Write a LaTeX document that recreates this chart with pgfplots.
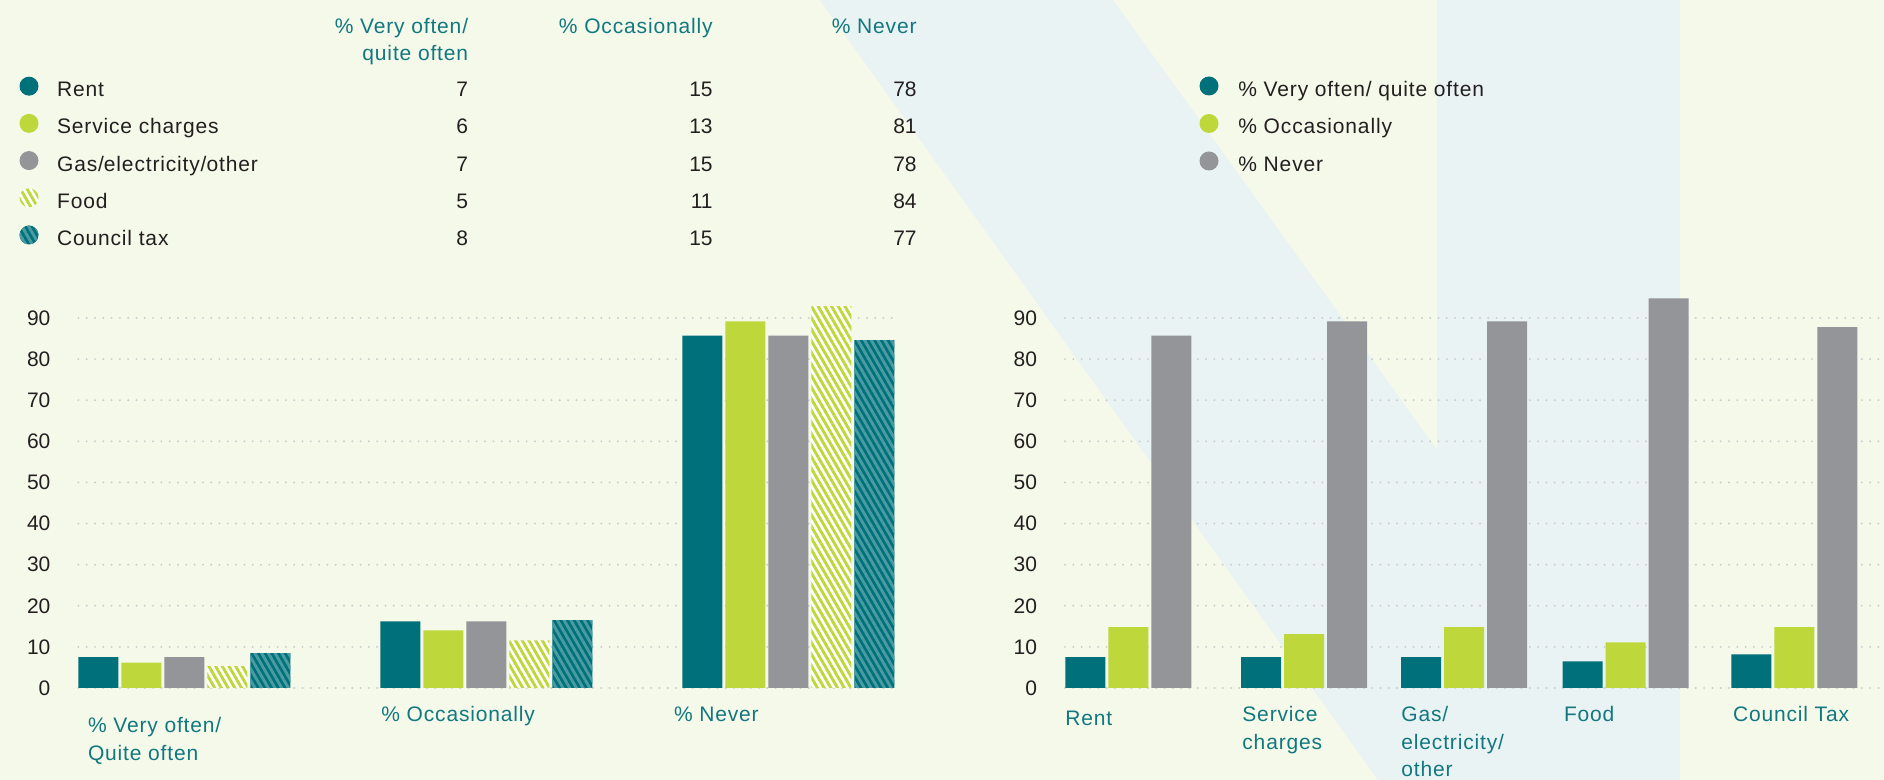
\documentclass[border=0pt]{standalone}
\usepackage{fontspec}
\setmainfont{Liberation Sans}[LetterSpace=4]
\newfontfamily\tickf{Liberation Sans}
\usepackage{pgfplots}
\pgfplotsset{compat=1.18}
\usetikzlibrary{patterns.meta}
\definecolor{tealC}{HTML}{00707A}
\definecolor{tealL}{HTML}{4A9CA3}
\definecolor{limeC}{HTML}{BED73B}
\definecolor{greyC}{HTML}{939598}
\definecolor{bgC}{HTML}{F5F9EA}
\definecolor{blueC}{HTML}{EAF3F3}
\definecolor{txtC}{HTML}{231F20}
\definecolor{gridC}{HTML}{CDCFCF}
\definecolor{labC}{HTML}{12787F}
\newcommand{\f}{\fontsize{10.5pt}{12.6pt}\selectfont}
\newcommand{\tf}{\tickf\fontsize{10.5pt}{12.6pt}\selectfont}
\tikzset{
  foodpat/.style={fill=white, postaction={pattern={Lines[angle=-60,distance=2.9pt,line width=1.45pt]}, pattern color=limeC}},
  taxpat/.style={fill=tealC, postaction={pattern={Lines[angle=-60,distance=2.9pt,line width=1.45pt]}, pattern color=tealL}},
}
\pgfplotsset{
  mybase/.style={
    scale only axis, anchor=south west,
    ymin=0, ymax=96, height=197.33pt,
    axis line style={draw=none}, major tick length=0pt,
    xtick=\empty, ytick={0,10,...,90},
    ymajorgrids,
    grid style={gridC, line width=1.1pt, line cap=round, dash pattern=on 0pt off 4.15pt},
    yticklabel style={font=\tf, text=txtC, inner sep=0pt, xshift=-13.8pt},
    /pgf/number format/assume math mode=true,
    clip=false,
  },
  bb/.style={ybar, bar width=20pt, draw=none},
}
\begin{document}
\begin{tikzpicture}
% background
\begin{scope}[x=0.5pt,y=-0.5pt,shift={(0pt,390pt)}]
\fill[bgC] (0,0) rectangle (1884,780);
\fill[blueC] (820,0) -- (1113,0) -- (1675,780) -- (1378,780) -- cycle;
\fill[blueC] (1437,0) rectangle (1680,780);

\tikzset{every node/.style={inner sep=0pt, font=\f}}
% table header
\node[anchor=base east, text=labC] at (468.5,33.3) {\% Very often/};
\node[anchor=base east, text=labC] at (468.5,61) {quite often};
\node[anchor=base east, text=labC] at (713,33.3) {\% Occasionally};
\node[anchor=base east, text=labC] at (917,33.3) {\% Never};
% table rows
\foreach \nm/\a/\b/\c/\yy in {Rent/7/15/78/96.7, Service charges/6/13/81/133.9, Gas\slash electricity\slash other/7/15/78/171.1, Food/5/11/84/208.3, Council tax/8/15/77/245.5}{
  \node[anchor=base west, text=txtC] at (56.7,\yy) {\nm};
  \node[anchor=base east, text=txtC, font=\tf] at (468.5,\yy) {\a};
  \node[anchor=base east, text=txtC, font=\tf] at (713,\yy) {\b};
  \node[anchor=base east, text=txtC, font=\tf] at (917,\yy) {\c};
}
% right legend
\node[anchor=base west, text=txtC] at (1238,96.8) {\% Very often/ quite often};
\node[anchor=base west, text=txtC] at (1238,134) {\% Occasionally};
\node[anchor=base west, text=txtC] at (1238,171.5) {\% Never};
% left chart category labels
\node[anchor=base west, text=labC] at (87.6,733) {\% Very often/};
\node[anchor=base west, text=labC] at (87.6,760.5) {Quite often};
\node[anchor=base west, text=labC] at (381,722) {\% Occasionally};
\node[anchor=base west, text=labC] at (673.6,722) {\% Never};
% right chart category labels
\node[anchor=base west, text=labC] at (1065,725.7) {Rent};
\node[anchor=base west, text=labC] at (1242,722) {Service};
\node[anchor=base west, text=labC] at (1242,749.5) {charges};
\node[anchor=base west, text=labC] at (1401,722) {Gas/};
\node[anchor=base west, text=labC] at (1401,749.5) {electricity/};
\node[anchor=base west, text=labC] at (1401,777) {other};
\node[anchor=base west, text=labC] at (1563.6,722) {Food};
\node[anchor=base west, text=labC] at (1732.6,722) {Council Tax};
\end{scope}

% legend dots (absolute pt coordinates)
\fill[tealC] (14.5pt,346.9pt) circle (4.75pt);
\fill[limeC] (14.5pt,328.3pt) circle (4.75pt);
\fill[greyC] (14.5pt,309.7pt) circle (4.75pt);
\path[foodpat] (14.5pt,291.1pt) circle (4.75pt);
\path[taxpat] (14.5pt,272.5pt) circle (4.75pt);
\fill[tealC] (604.5pt,347pt) circle (4.75pt);
\fill[limeC] (604.5pt,328.25pt) circle (4.75pt);
\fill[greyC] (604.5pt,309.5pt) circle (4.75pt);

% left chart
\begin{axis}[mybase, at={(39.2pt,46pt)}, width=408pt, xmin=-0.351, xmax=2.351]
\addplot[bb, bar shift=-43pt, fill=tealC] coordinates {(0,7.5) (1,16.2) (2,85.7)};
\addplot[bb, bar shift=-21.5pt, fill=limeC] coordinates {(0,6.2) (1,14.0) (2,89.2)};
\addplot[bb, bar shift=0pt, fill=greyC] coordinates {(0,7.5) (1,16.2) (2,85.7)};
\addplot[bb, bar shift=21.5pt, foodpat] coordinates {(0,5.3) (1,11.6) (2,92.9)};
\addplot[bb, bar shift=43pt, taxpat] coordinates {(0,8.5) (1,16.5) (2,84.6)};
\end{axis}

% right chart
\begin{axis}[mybase, at={(532.5pt,46pt)}, width=409.5pt, xmin=1065, xmax=1884]
\addplot[bb, bar shift=-21.5pt, fill=tealC] coordinates {(1128.4,7.5) (1304.2,7.5) (1464,7.5) (1625.5,6.5) (1794.4,8.2)};
\addplot[bb, bar shift=0pt, fill=limeC] coordinates {(1128.4,14.8) (1304.2,13.1) (1464,14.8) (1625.5,11.1) (1794.4,14.8)};
\addplot[bb, bar shift=21.5pt, fill=greyC] coordinates {(1128.4,85.7) (1304.2,89.2) (1464,89.2) (1625.5,94.8) (1794.4,87.8)};
\end{axis}

\pgfresetboundingbox
\useasboundingbox (0pt,0pt) rectangle (942pt,390pt);
\end{tikzpicture}
\end{document}
